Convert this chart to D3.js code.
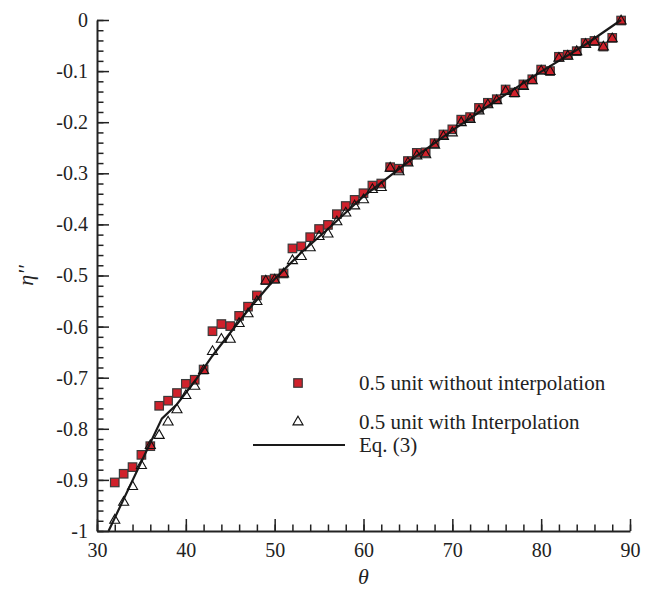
<!DOCTYPE html>
<html>
<head>
<meta charset="utf-8">
<script src="https://cdn.jsdelivr.net/npm/d3@7"></script>
<style>
  body { margin: 0; background: #fff; }
</style>
</head>
<body>
<div id="chart"></div>
<script>
// theta values (degrees) shared by both point series
const theta = [32, 33, 34, 35, 36, 37, 38, 39, 40, 41, 42, 43, 44, 45, 46, 47, 48, 49, 50,
  51, 52, 53, 54, 55, 56, 57, 58, 59, 60, 61, 62, 63, 64, 65, 66, 67, 68, 69, 70,
  71, 72, 73, 74, 75, 76, 77, 78, 79, 80, 81, 82, 83, 84, 85, 86, 87, 88, 89];

// 0.5 unit without interpolation (red squares)
const noInterp = [-0.905, -0.888, -0.875, -0.851, -0.834, -0.755, -0.745, -0.730, -0.712, -0.704,
  -0.684, -0.609, -0.595, -0.599, -0.579, -0.561, -0.539, -0.509, -0.506, -0.496,
  -0.447, -0.443, -0.425, -0.409, -0.401, -0.380, -0.364, -0.352, -0.339, -0.324,
  -0.320, -0.288, -0.291, -0.276, -0.260, -0.259, -0.241, -0.224, -0.214, -0.195,
  -0.190, -0.172, -0.162, -0.155, -0.136, -0.142, -0.126, -0.116, -0.097, -0.100,
  -0.072, -0.068, -0.061, -0.045, -0.041, -0.052, -0.035, -0.001];

// 0.5 unit with interpolation (open triangles)
const withInterp = [-0.979, -0.944, -0.913, -0.872, -0.833, -0.813, -0.787, -0.763, -0.735, -0.717,
  -0.686, -0.649, -0.625, -0.625, -0.594, -0.575, -0.551, -0.511, -0.509, -0.497,
  -0.471, -0.463, -0.446, -0.424, -0.419, -0.395, -0.378, -0.364, -0.352, -0.332,
  -0.328, -0.290, -0.297, -0.280, -0.266, -0.264, -0.245, -0.228, -0.221, -0.201,
  -0.195, -0.178, -0.166, -0.158, -0.140, -0.144, -0.130, -0.119, -0.100, -0.101,
  -0.075, -0.071, -0.062, -0.048, -0.043, -0.053, -0.037, -0.002];

// Eq. (3) curve
const eqTheta = [31.3, 37.3, 39, 41, 43, 45, 47, 50, 53, 56, 60, 65, 70, 75, 80, 85, 89];
const eqEta = [-1.0, -0.780, -0.752, -0.707, -0.657, -0.612, -0.568, -0.507, -0.455, -0.409,
  -0.345, -0.278, -0.216, -0.157, -0.101, -0.048, 0.0];

const xTicks = [30, 40, 50, 60, 70, 80, 90];
const yTicks = [0, -0.1, -0.2, -0.3, -0.4, -0.5, -0.6, -0.7, -0.8, -0.9, -1];
const legendLabels = ["0.5 unit without interpolation", "0.5 unit with Interpolation", "Eq. (3)"];

const width = 653;
const height = 590;
const margin = { top: 20, right: 23, bottom: 59, left: 97 };
const serif = '"Liberation Serif", "Times New Roman", Times, serif';

const svg = d3.select("#chart")
  .append("svg")
  .attr("width", width)
  .attr("height", height);

const x = d3.scaleLinear().domain([30, 90]).range([margin.left, width - margin.right]);
const y = d3.scaleLinear().domain([-1, 0]).range([height - margin.bottom, margin.top]);

const fmt = d => (+d.toFixed(1)).toString();

// minor ticks first, then major axes on top
svg.append("g")
  .attr("transform", `translate(0,${height - margin.bottom})`)
  .call(d3.axisBottom(x).tickValues(d3.range(30, 91, 2)).tickSizeInner(-6.5).tickSizeOuter(0).tickFormat(""))
  .call(g => g.select(".domain").remove());

svg.append("g")
  .attr("transform", `translate(${margin.left},0)`)
  .call(d3.axisLeft(y).tickValues(d3.range(0, 51).map(i => -i * 0.02)).tickSizeInner(-6.5).tickSizeOuter(0).tickFormat(""))
  .call(g => g.select(".domain").remove());

const xAxis = svg.append("g")
  .attr("transform", `translate(0,${height - margin.bottom})`)
  .call(d3.axisBottom(x).tickValues(xTicks).tickSizeInner(-12).tickSizeOuter(0).tickPadding(9).tickFormat(fmt));

const yAxis = svg.append("g")
  .attr("transform", `translate(${margin.left},0)`)
  .call(d3.axisLeft(y).tickValues(yTicks).tickSizeInner(-12).tickSizeOuter(0).tickPadding(9).tickFormat(fmt));

svg.selectAll(".tick line").attr("stroke", "#222").attr("stroke-width", 1.5);
svg.selectAll(".domain").attr("stroke", "#222").attr("stroke-width", 2);
svg.selectAll(".tick text")
  .style("font-family", serif)
  .style("font-size", "20px")
  .attr("fill", "#222");
xAxis.selectAll(".tick text").attr("dy", "0.85em");

// axis titles
svg.append("text")
  .attr("x", (x(30) + x(90)) / 2)
  .attr("y", 584)
  .attr("text-anchor", "middle")
  .style("font-family", serif)
  .style("font-size", "22px")
  .style("font-style", "italic")
  .attr("fill", "#222")
  .text("θ");

svg.append("text")
  .attr("transform", `translate(33, ${(y(0) + y(-1)) / 2}) rotate(-90)`)
  .attr("text-anchor", "middle")
  .style("font-family", serif)
  .style("font-size", "22px")
  .style("font-style", "italic")
  .attr("fill", "#222")
  .text("η''");

const squareData = theta.map((t, i) => ({ t, v: noInterp[i] }));
const triData = theta.map((t, i) => ({ t, v: withInterp[i] }));
const lineData = eqTheta.map((t, i) => ({ t, v: eqEta[i] }));

const sq = 8.5;
const triangle = d3.symbol().type(d3.symbolTriangle).size(44);

svg.append("g")
  .selectAll("rect")
  .data(squareData)
  .join("rect")
  .attr("x", d => x(d.t) - sq / 2)
  .attr("y", d => y(d.v) - sq / 2)
  .attr("width", sq)
  .attr("height", sq)
  .attr("fill", "#d0212b")
  .attr("stroke", "#3a3a3a")
  .attr("stroke-width", 1.2);

const line = d3.line().x(d => x(d.t)).y(d => y(d.v));

svg.append("path")
  .datum(lineData)
  .attr("d", line)
  .attr("fill", "none")
  .attr("stroke", "#1a1a1a")
  .attr("stroke-width", 2.2);

svg.append("g")
  .selectAll("path")
  .data(triData)
  .join("path")
  .attr("d", triangle)
  .attr("transform", d => `translate(${x(d.t)},${y(d.v)})`)
  .attr("fill", "none")
  .attr("stroke", "#111")
  .attr("stroke-width", 1.1);

// legend
const legend = svg.append("g");
const legendY = [383, 422, 445];

legend.append("rect")
  .attr("x", 298 - sq / 2)
  .attr("y", legendY[0] - sq / 2)
  .attr("width", sq)
  .attr("height", sq)
  .attr("fill", "#d0212b")
  .attr("stroke", "#3a3a3a")
  .attr("stroke-width", 1.2);

legend.append("path")
  .attr("d", triangle)
  .attr("transform", `translate(298,${legendY[1]})`)
  .attr("fill", "none")
  .attr("stroke", "#111")
  .attr("stroke-width", 1.1);

legend.append("line")
  .attr("x1", 253).attr("x2", 345)
  .attr("y1", legendY[2]).attr("y2", legendY[2])
  .attr("stroke", "#1a1a1a")
  .attr("stroke-width", 2.2);

legend.selectAll("text")
  .data(legendLabels)
  .join("text")
  .attr("x", 359)
  .attr("y", (d, i) => legendY[i])
  .attr("dy", "0.35em")
  .style("font-family", serif)
  .style("font-size", "21px")
  .attr("fill", "#222")
  .text(d => d);
</script>
</body>
</html>
